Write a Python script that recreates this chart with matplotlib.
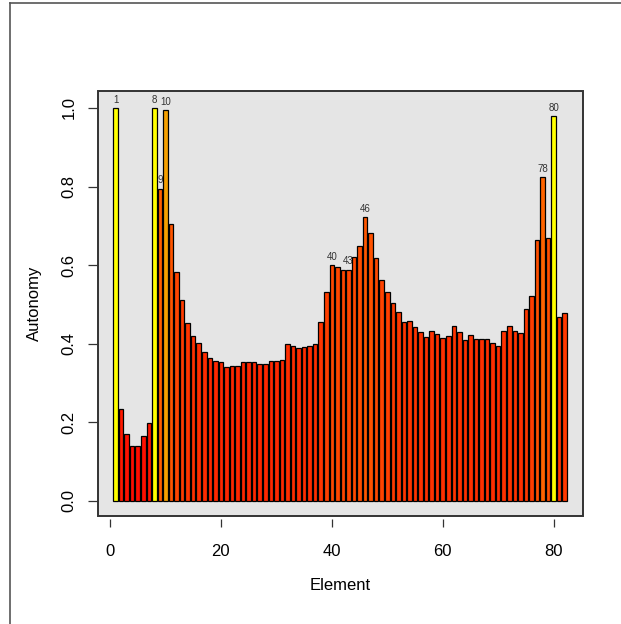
import matplotlib
matplotlib.use("Agg")
import matplotlib.pyplot as plt
import matplotlib.colors as mcolors
from matplotlib.patches import Rectangle
from matplotlib.lines import Line2D
import numpy as np

plt.rcParams['font.family'] = ['Liberation Sans', 'DejaVu Sans']

elements = list(range(1, 83))
autonomy = [
    1.000, 0.234, 0.170, 0.141, 0.139, 0.165, 0.198, 1.000, 0.795, 0.995,
    0.705, 0.582, 0.511, 0.452, 0.421, 0.403, 0.380, 0.365, 0.356, 0.354,
    0.340, 0.343, 0.343, 0.354, 0.353, 0.353, 0.349, 0.348, 0.356, 0.356,
    0.359, 0.399, 0.395, 0.388, 0.392, 0.394, 0.400, 0.455, 0.532, 0.601,
    0.595, 0.588, 0.589, 0.620, 0.650, 0.722, 0.683, 0.618, 0.563, 0.531,
    0.505, 0.480, 0.455, 0.459, 0.442, 0.431, 0.417, 0.433, 0.424, 0.414,
    0.419, 0.446, 0.429, 0.410, 0.422, 0.411, 0.412, 0.412, 0.401, 0.394,
    0.432, 0.444, 0.433, 0.427, 0.488, 0.522, 0.664, 0.825, 0.669, 0.980,
    0.469, 0.479,
]
labelled = [1, 8, 9, 10, 40, 43, 46, 78, 80]
yellow_bars = [1, 8, 80]
orange_bars = [10]

x_ticks = [0, 20, 40, 60, 80]
y_ticks = [0.0, 0.2, 0.4, 0.6, 0.8, 1.0]


def bar_color(el, v):
    if el in yellow_bars:
        return '#FFFF00'
    if el in orange_bars:
        return '#F5A000'
    hue = np.clip(3 + (v - 0.14) * 30, 0, 40) / 360.0
    return mcolors.hsv_to_rgb((hue, 1.0, 1.0))


colors = [bar_color(e, v) for e, v in zip(elements, autonomy)]

fig = plt.figure(figsize=(6.21, 6.24), dpi=100)
ax = fig.add_axes([0.1578, 0.1731, 0.781, 0.6811])
ax.set_facecolor('#E5E5E5')

ax.bar(elements, autonomy, width=0.82, color=colors, edgecolor='black',
       linewidth=0.9, zorder=2)

for e in labelled:
    v = autonomy[e - 1]
    ax.text(e, v + 0.008, str(e), ha='center', va='bottom', fontsize=7,
            color='#333333', zorder=1.5)

ax.set_xlim(-2.16, 85.3)
ax.set_ylim(-0.0382, 1.0433)
ax.set_xticks(x_ticks)
ax.set_xticklabels([str(t) for t in x_ticks])
ax.set_yticks(y_ticks)
ax.set_yticklabels([f'{t:.1f}' for t in y_ticks], rotation=90, va='center')

for s in ax.spines.values():
    s.set_visible(False)
ax.spines['bottom'].set_position(('outward', 2.5))

ax.add_patch(Rectangle((0, 0), 1, 1, transform=ax.transAxes, fill=False,
                       edgecolor='#333333', linewidth=1.4, zorder=5,
                       clip_on=False))

ax.tick_params(axis='x', direction='out', length=5.5, width=0.9,
               color='#333333', pad=12, labelsize=12)
ax.tick_params(axis='y', direction='out', length=7.5, width=0.9,
               color='#333333', pad=8, labelsize=12)

ax.set_xlabel('Element', fontsize=12, labelpad=14)
ax.set_ylabel('Autonomy', fontsize=12, labelpad=14)

# outer frame (cropped border)
fig.add_artist(Line2D([10 / 621, 10 / 621], [0, 1 - 3 / 624],
                      transform=fig.transFigure, color='#555555', lw=1.2))
fig.add_artist(Line2D([10 / 621, 1], [1 - 3 / 624, 1 - 3 / 624],
                      transform=fig.transFigure, color='#555555', lw=1.2))

fig.savefig('out.png', dpi=100)
